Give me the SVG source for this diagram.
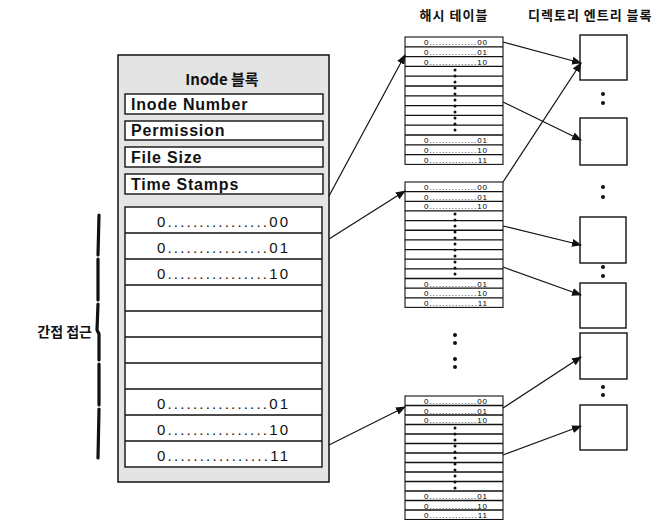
<svg xmlns="http://www.w3.org/2000/svg" width="670" height="520" viewBox="0 0 670 520">
<defs>
<style>
.ln{fill:none;stroke:#111;stroke-width:1.3}
.bx{fill:#fff;stroke:#111;stroke-width:1.4}
.tb{fill:#fff;stroke:#111;stroke-width:1.1}
.t1{font-family:"Liberation Sans",Arial,sans-serif;font-size:16px;font-weight:bold;fill:#111;letter-spacing:0.8px}
.t2{font-family:"Liberation Sans",Arial,sans-serif;font-size:15px;fill:#111}
.t3{font-family:"Liberation Sans",Arial,sans-serif;font-size:8px;fill:#000}
.kr{font-family:"Noto Sans CJK KR","Noto Sans",sans-serif;font-weight:bold;fill:#111}
.ar{fill:none;stroke:#111;stroke-width:1.2;marker-end:url(#ah)}
.dot{fill:#111}
</style>
<marker id="ah" markerWidth="10" markerHeight="8" refX="9" refY="4" orient="auto" markerUnits="userSpaceOnUse">
<path d="M0,0 L10,4 L0,8 Z" fill="#111"/>
</marker>
</defs>
<rect width="670" height="520" fill="#fff"/>

<g id="inode">
<rect x="118" y="55" width="211" height="427" fill="#e4e4e4" stroke="#111" stroke-width="1.5"/>
<text x="222" y="85" text-anchor="middle" class="kr" font-size="15">Inode 블록</text>
<rect class="bx" x="125" y="94" width="198" height="20"/>
<text class="t1" x="131" y="110">Inode Number</text>
<rect class="bx" x="125" y="121" width="198" height="19"/>
<text class="t1" x="131" y="136">Permission</text>
<rect class="bx" x="125" y="147" width="198" height="20"/>
<text class="t1" x="131" y="163">File Size</text>
<rect class="bx" x="125" y="174" width="198" height="20"/>
<text class="t1" x="131" y="190">Time Stamps</text>
<rect class="bx" x="125" y="207" width="197" height="260"/>
<path class="ln" d="M125,233H322M125,259H322M125,285H322M125,311H322M125,337H322M125,363H322M125,389H322M125,415H322M125,441H322"/>
<text class="t2" x="157" y="227" textLength="131" lengthAdjust="spacing">0................00</text>
<text class="t2" x="157" y="253" textLength="131" lengthAdjust="spacing">0................01</text>
<text class="t2" x="157" y="279" textLength="131" lengthAdjust="spacing">0................10</text>
<text class="t2" x="157" y="409" textLength="131" lengthAdjust="spacing">0................01</text>
<text class="t2" x="157" y="435" textLength="131" lengthAdjust="spacing">0................10</text>
<text class="t2" x="157" y="461" textLength="131" lengthAdjust="spacing">0................11</text>
</g>

<g id="indirect">
<path d="M99,215 L98,255 M98,259 L98,300 M98,304 L97,330 L99,334 L99,360 M99,364 L99,405 M99,409 L98,458" fill="none" stroke="#111" stroke-width="3.2" stroke-linecap="round"/>
<text x="92" y="337" text-anchor="end" class="kr" font-size="14">간접 접근</text>
</g>

<g id="headers">
<text x="454" y="20" text-anchor="middle" class="kr" font-size="13" letter-spacing="1">해시 테이블</text>
<text x="528" y="20" class="kr" font-size="13" letter-spacing="1">디렉토리 엔트리 블록</text>
</g>

<g id="hash1">
<rect class="tb" x="405" y="37" width="98" height="127.4"/>
<path class="ln" stroke-width="1" d="M405,46.8H503M405,56.6H503M405,66.4H503M405,76.2H503M405,86H503M405,95.8H503M405,105.6H503M405,115.4H503M405,125.2H503M405,135H503M405,144.8H503M405,154.6H503"/>
<text class="t3" x="424" y="45" textLength="63" lengthAdjust="spacing">0...............00</text>
<text class="t3" x="424" y="54.8" textLength="63" lengthAdjust="spacing">0...............01</text>
<text class="t3" x="424" y="64.6" textLength="63" lengthAdjust="spacing">0...............10</text>
<text class="t3" x="424" y="143" textLength="63" lengthAdjust="spacing">0...............01</text>
<text class="t3" x="424" y="152.8" textLength="63" lengthAdjust="spacing">0...............10</text>
<text class="t3" x="424" y="162.6" textLength="63" lengthAdjust="spacing">0...............11</text>
<g class="dot"><circle cx="455" cy="70" r="1.5"/><circle cx="455" cy="76" r="1.5"/><circle cx="455" cy="82" r="1.5"/><circle cx="455" cy="88" r="1.5"/><circle cx="455" cy="94" r="1.5"/><circle cx="455" cy="100" r="1.5"/><circle cx="455" cy="106" r="1.5"/><circle cx="455" cy="112" r="1.5"/><circle cx="455" cy="118" r="1.5"/><circle cx="455" cy="124" r="1.5"/><circle cx="455" cy="130" r="1.5"/></g>
</g>

<g id="hash2">
<rect class="tb" x="405" y="182" width="98" height="125.4"/>
<path class="ln" stroke-width="1" d="M405,191.65H503M405,201.3H503M405,210.95H503M405,220.6H503M405,230.25H503M405,239.9H503M405,249.55H503M405,259.2H503M405,268.85H503M405,278.5H503M405,288.15H503M405,297.8H503"/>
<text class="t3" x="424" y="190" textLength="63" lengthAdjust="spacing">0...............00</text>
<text class="t3" x="424" y="199.65" textLength="63" lengthAdjust="spacing">0...............01</text>
<text class="t3" x="424" y="209.3" textLength="63" lengthAdjust="spacing">0...............10</text>
<text class="t3" x="424" y="286.5" textLength="63" lengthAdjust="spacing">0...............01</text>
<text class="t3" x="424" y="296.15" textLength="63" lengthAdjust="spacing">0...............10</text>
<text class="t3" x="424" y="305.8" textLength="63" lengthAdjust="spacing">0...............11</text>
<g class="dot"><circle cx="455" cy="214" r="1.5"/><circle cx="455" cy="220" r="1.5"/><circle cx="455" cy="226" r="1.5"/><circle cx="455" cy="232" r="1.5"/><circle cx="455" cy="238" r="1.5"/><circle cx="455" cy="244" r="1.5"/><circle cx="455" cy="250" r="1.5"/><circle cx="455" cy="256" r="1.5"/><circle cx="455" cy="262" r="1.5"/><circle cx="455" cy="268" r="1.5"/><circle cx="455" cy="274" r="1.5"/></g>
</g>

<g id="gap-dots" class="dot">
<circle cx="455" cy="335" r="2"/><circle cx="455" cy="343" r="2"/><circle cx="455" cy="359" r="2"/><circle cx="455" cy="367" r="2"/>
</g>

<g id="hash3">
<rect class="tb" x="405" y="396" width="98" height="123.5"/>
<path class="ln" stroke-width="1" d="M405,405.5H503M405,415H503M405,424.5H503M405,434H503M405,443.5H503M405,453H503M405,462.5H503M405,472H503M405,481.5H503M405,491H503M405,500.5H503M405,510H503"/>
<text class="t3" x="424" y="404" textLength="63" lengthAdjust="spacing">0...............00</text>
<text class="t3" x="424" y="413.5" textLength="63" lengthAdjust="spacing">0...............01</text>
<text class="t3" x="424" y="423" textLength="63" lengthAdjust="spacing">0...............10</text>
<text class="t3" x="424" y="499" textLength="63" lengthAdjust="spacing">0...............01</text>
<text class="t3" x="424" y="508.5" textLength="63" lengthAdjust="spacing">0...............10</text>
<text class="t3" x="424" y="517.5" textLength="63" lengthAdjust="spacing">0...............11</text>
<g class="dot"><circle cx="455" cy="428" r="1.5"/><circle cx="455" cy="434" r="1.5"/><circle cx="455" cy="440" r="1.5"/><circle cx="455" cy="446" r="1.5"/><circle cx="455" cy="452" r="1.5"/><circle cx="455" cy="458" r="1.5"/><circle cx="455" cy="464" r="1.5"/><circle cx="455" cy="470" r="1.5"/><circle cx="455" cy="476" r="1.5"/><circle cx="455" cy="482" r="1.5"/><circle cx="455" cy="488" r="1.5"/></g>
</g>

<g id="block1"><rect class="bx" x="580" y="35" width="47" height="45"/></g>
<g id="block2"><rect class="bx" x="580" y="118" width="47" height="47"/></g>
<g id="block3"><rect class="bx" x="580" y="217" width="46" height="46"/></g>
<g id="block4"><rect class="bx" x="580" y="283" width="46" height="45"/></g>
<g id="block5"><rect class="bx" x="580" y="333" width="47" height="46"/></g>
<g id="block6"><rect class="bx" x="580" y="405" width="47" height="45"/></g>
<g id="block-dots" class="dot">
<circle cx="603" cy="94" r="2"/><circle cx="603" cy="103" r="2"/>
<circle cx="603" cy="187" r="2"/><circle cx="603" cy="197" r="2"/>
<circle cx="603" cy="267" r="2"/><circle cx="603" cy="276" r="2"/>
<circle cx="603" cy="387" r="2"/><circle cx="603" cy="395" r="2"/>
</g>

<g id="connectors">
<path class="ar" d="M329,196 L405,55"/>
<path class="ar" d="M329,239 L405,191"/>
<path class="ar" d="M329,445 L405,407"/>
<path class="ar" d="M503,42 L581,63"/>
<path class="ar" d="M503,102 L581,140"/>
<path class="ar" d="M503,182 L581,63"/>
<path class="ar" d="M503,226 L581,245"/>
<path class="ar" d="M503,267 L581,295"/>
<path class="ar" d="M503,408 L581,357"/>
<path class="ar" d="M503,455 L581,426"/>
</g>
</svg>
